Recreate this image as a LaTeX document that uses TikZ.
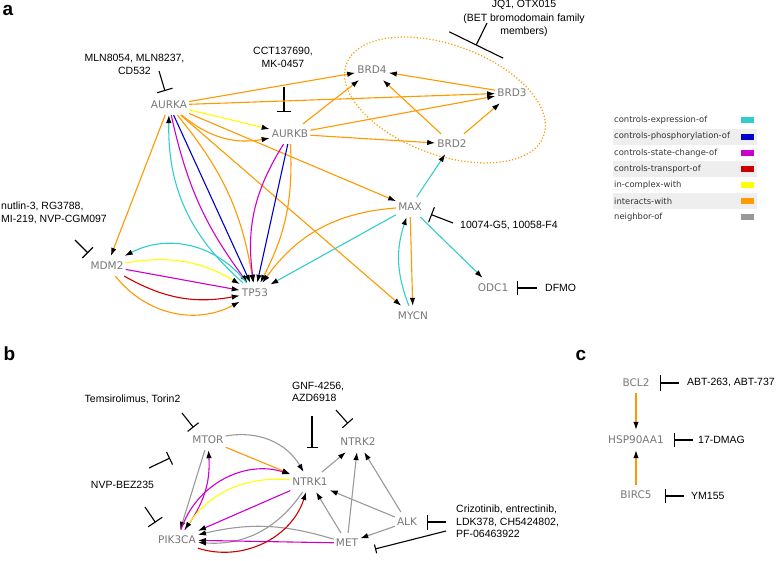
\documentclass[tikz,border=0pt]{standalone}
\usepackage{fontspec}
\setmainfont{DejaVu Sans}
\newfontfamily\drugfont{Liberation Sans}
\usepackage{tikz}
\usetikzlibrary{arrows.meta,shapes.geometric}
\definecolor{cexpr}{RGB}{51,204,204}
\definecolor{cphos}{RGB}{0,0,204}
\definecolor{cstate}{RGB}{204,0,204}
\definecolor{ctrans}{RGB}{204,0,0}
\definecolor{ccomplex}{RGB}{255,255,0}
\definecolor{cinter}{RGB}{255,153,0}
\definecolor{cneigh}{RGB}{153,153,153}
\definecolor{genegray}{RGB}{120,120,120}
\definecolor{rowshade}{RGB}{238,238,238}

\begin{document}
\begin{tikzpicture}[x=1pt, y=1pt,
  >={Latex[length=8pt,width=5.5pt,color=black,fill=black]},
  gene/.style={rectangle, inner xsep=2pt, inner ysep=6pt, text=genegray,
    font=\fontsize{10.5}{12}\selectfont},
  drug/.style={inner sep=0pt, align=center, text=black,
    font=\drugfont\fontsize{10.5}{12.5}\selectfont},
  panel/.style={inner sep=0pt, font=\drugfont\bfseries\fontsize{19}{19}\selectfont},
  link/.style={->, line width=1.1pt},
  block/.style={-{Bar[width=#1]}, line width=1.1pt, black},
  block/.default=15pt,
  legtext/.style={anchor=west, inner sep=0pt, text=black!80,
    font=\fontsize{8.4}{10}\selectfont}]
\useasboundingbox (0,0) rectangle (778,-561);

\node[panel] (panela) at (8,-10.5) {a};
\node[panel] (panelb) at (9.5,-354) {b};
\node[panel] (panelc) at (581,-355) {c};

\node[gene] (aurka) at (169,-105) {AURKA};
\node[gene] (aurkb) at (290,-134) {AURKB};
\node[gene] (brd4) at (372,-70) {BRD4};
\node[gene] (brd3) at (512,-93) {BRD3};
\node[gene] (brd2) at (452,-144) {BRD2};
\node[gene] (maxp) at (410,-207) {MAX};
\node[gene] (mycn) at (413,-316) {MYCN};
\node[gene] (odc1) at (493,-288) {ODC1};
\node[gene] (tp53) at (255,-293) {TP53};
\node[gene] (mdm2) at (107,-266) {MDM2};

\node[ellipse, draw=cinter, line width=1.2pt, dash pattern=on 1.2pt off 2pt,
  minimum width=210pt, minimum height=110pt, inner sep=0pt, rotate=-20] (betgroup) at (445,-100) {};

\node[drug] (mln) at (134.5,-64.5) {MLN8054, MLN8237,\\CD532};
\node[drug] (cct) at (283,-57.5) {CCT137690,\\MK-0457};
\node[drug, font=\drugfont\fontsize{10.5}{13.5}\selectfont] (jq1) at (524,-18.5)
  {JQ1, OTX015\\(BET bromodomain family\\members)};
\node[drug, anchor=west, align=left] (nutlin) at (1,-213) {nutlin-3, RG3788,\\MI-219, NVP-CGM097};
\node[drug, anchor=west] (mycinh) at (460,-226) {10074-G5, 10058-F4};
\node[drug, anchor=west] (dfmo) at (545,-288) {DFMO};

\coordinate (mlnS) at (159,-71);
\coordinate (mlnE) at (165,-91);
\coordinate (cctS) at (284,-87);
\coordinate (cctE) at (284,-112);
\coordinate (jqS) at (487,-23);
\coordinate (jqE) at (476,-45.5);
\coordinate (nutS) at (75,-240);
\coordinate (nutE) at (88,-253);
\coordinate (myciS) at (453,-223);
\coordinate (myciE) at (431,-214.5);
\coordinate (dfmoS) at (537,-288);
\coordinate (dfmoE) at (517,-288);

\draw[block=16pt] (mlnS) -- (mlnE);
\draw[block=14pt] (cctS) -- (cctE);
\draw[block=60pt] (jqS) -- (jqE);
\draw[block=15pt] (nutS) -- (nutE);
\draw[block=16pt] (myciS) -- (myciE);
\draw[block=14pt] (dfmoS) -- (dfmoE);

\draw[link, cinter] (aurka) -- (brd4);
\draw[link, cinter] (aurka) -- (brd3);
\draw[link, ccomplex] (aurka) -- (aurkb);
\draw[link, cinter] (aurka) to[bend right=25] (aurkb);
\draw[link, cinter] (aurka) -- (maxp);
\draw[link, cinter] (aurka) -- (mycn);
\draw[link, cinter] (aurka) -- (mdm2);
\draw[link, cexpr] (tp53) to[bend left=25] (aurka);
\draw[link, cstate] (aurka) to[bend right=12] (tp53);
\draw[link, cphos] (aurka) -- (tp53);
\draw[link, cinter] (aurka) to[bend left=15] (tp53);
\draw[link, cstate] (aurkb) to[bend right=20] (tp53);
\draw[link, cphos] (aurkb) -- (tp53);
\draw[link, cinter] (aurkb) to[bend left=15] (tp53);
\draw[link, cinter] (aurkb) -- (brd4);
\draw[link, cinter] (aurkb) -- (brd3);
\draw[link, cinter] (aurkb) -- (brd2);
\draw[link, cinter] (brd2) -- (brd4);
\draw[link, cinter] (brd2) -- (brd3);
\draw[link, cinter] (brd3) -- (brd4);
\draw[link, cexpr] (maxp) -- (brd2);
\draw[link, cexpr] (maxp) -- (odc1);
\draw[link, cinter] (maxp) -- (mycn);
\draw[link, cexpr] (mycn) to[bend left=20] (maxp);
\draw[link, cexpr] (maxp) -- (tp53);
\draw[link, cinter] (maxp) to[bend right=25] (tp53);
\draw[link, ccomplex] (mdm2) to[bend left=20] (tp53);
\draw[link, cexpr] (tp53) to[bend right=40] (mdm2);
\draw[link, cstate] (mdm2) -- (tp53);
\draw[link, ctrans] (mdm2) to[bend right=20] (tp53);
\draw[link, cinter] (mdm2) to[bend right=40] (tp53);

\foreach \i/\lab/\col in {0/controls-expression-of/cexpr, 1/controls-phosphorylation-of/cphos,
    2/controls-state-change-of/cstate, 3/controls-transport-of/ctrans,
    4/in-complex-with/ccomplex, 5/interacts-with/cinter, 6/neighbor-of/cneigh}{
  \ifodd\i
    \fill[rowshade] (613,{-120.5-16.15*\i+8}) rectangle (757,{-120.5-16.15*\i-8});
  \fi
  \node[legtext] (leg\i) at (614,{-120.5-16.15*\i}) {\lab};
  \fill[\col] (741,{-120.5-16.15*\i+3}) rectangle (754,{-120.5-16.15*\i-3});
}

\node[gene] (mtor) at (208,-440) {MTOR};
\node[gene] (ntrk1) at (310,-482) {NTRK1};
\node[gene] (ntrk2) at (358,-442) {NTRK2};
\node[gene] (pik3ca) at (177,-540) {PIK3CA};
\node[gene] (alk) at (407,-522) {ALK};
\node[gene] (met) at (347,-543) {MET};

\node[drug] (temsi) at (132.5,-399) {Temsirolimus, Torin2};
\node[drug] (nvp) at (122.5,-485) {NVP-BEZ235};
\node[drug, anchor=west, align=left] (gnf) at (292,-392) {GNF-4256,\\AZD6918};
\node[drug, anchor=west, align=left] (crizo) at (456,-521.5)
  {Crizotinib, entrectinib,\\LDK378, CH5424802,\\PF-06463922};

\coordinate (temS) at (182,-413);
\coordinate (temE) at (193.5,-427.5);
\coordinate (nvpS) at (149,-468);
\coordinate (nvpE) at (170,-458);
\coordinate (nvpT) at (145,-507);
\coordinate (nvpU) at (155.5,-522.5);
\coordinate (gnfS) at (312,-416);
\coordinate (gnfE) at (312,-448);
\coordinate (gnfT) at (336,-410);
\coordinate (gnfU) at (348,-423.5);
\coordinate (crzS) at (446,-522);
\coordinate (crzE) at (427,-522);
\coordinate (crzT) at (446,-531);
\coordinate (crzU) at (375,-549);

\draw[block=14pt] (temS) -- (temE);
\draw[block=14pt] (nvpS) -- (nvpE);
\draw[block=17pt] (nvpT) -- (nvpU);
\draw[block=11pt] (gnfS) -- (gnfE);
\draw[block=14pt] (gnfT) -- (gnfU);
\draw[block=15pt] (crzS) -- (crzE);
\draw[block=9pt] (crzT) -- (crzU);

\draw[link, cneigh] (mtor) to[bend left=35] (ntrk1);
\draw[link, cinter] (mtor) -- (ntrk1);
\draw[link, cneigh] (mtor) -- (pik3ca);
\draw[link, cstate] (pik3ca) to[bend right=20] (mtor);
\draw[link, cstate] (pik3ca) to[bend left=45] (ntrk1);
\draw[link, ccomplex] (ntrk1) to[bend right=30] (pik3ca);
\draw[link, cstate] (ntrk1) -- (pik3ca);
\draw[link, cneigh] (ntrk1) to[bend left=30] (pik3ca);
\draw[link, cneigh] (met) to[bend right=15] (pik3ca);
\draw[link, cstate] (met) -- (pik3ca);
\draw[link, ctrans] (pik3ca) to[bend right=45] (ntrk1);
\draw[link, cneigh] (met) -- (ntrk1);
\draw[link, cneigh] (met) -- (ntrk2);
\draw[link, cneigh] (alk) -- (ntrk1);
\draw[link, cneigh] (alk) -- (ntrk2);
\draw[link, cneigh] (alk) -- (met);
\draw[link, cneigh] (ntrk1) -- (ntrk2);

\node[gene] (bcl2) at (636,-383) {BCL2};
\node[gene, below of=bcl2, node distance=57pt] (hsp90) {HSP90AA1};
\node[gene, below of=hsp90, node distance=55pt] (birc5) {BIRC5};

\node[drug, anchor=west] (abt) at (687,-383) {ABT-263, ABT-737};
\node[drug, anchor=west] (dmag) at (698,-440) {17-DMAG};
\node[drug, anchor=west] (ym155) at (691,-496) {YM155};

\coordinate (abtS) at (679,-383);
\coordinate (abtE) at (660,-383);
\coordinate (dmagS) at (693,-440);
\coordinate (dmagE) at (674,-440);
\coordinate (ymS) at (684,-496);
\coordinate (ymE) at (665,-496);

\draw[block=16pt] (abtS) -- (abtE);
\draw[block=14pt] (dmagS) -- (dmagE);
\draw[block=14pt] (ymS) -- (ymE);

\draw[link, cinter] (bcl2) -- (hsp90);
\draw[link, cinter] (birc5) -- (hsp90);
\end{tikzpicture}
\end{document}
